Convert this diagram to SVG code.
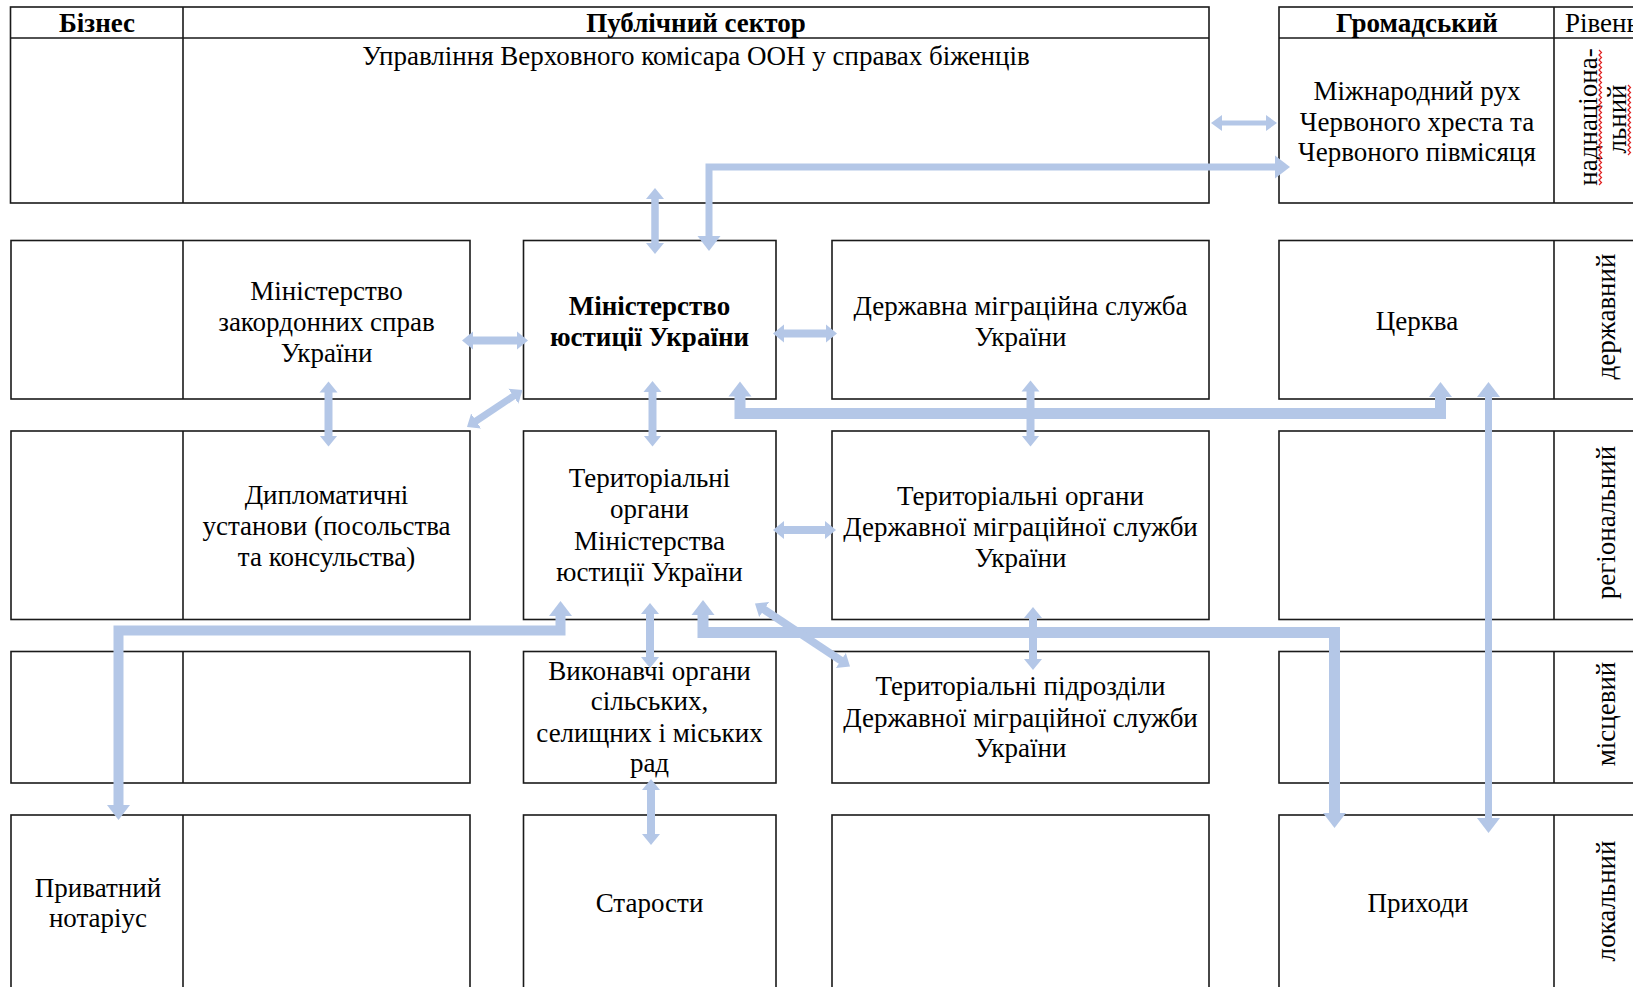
<svg xmlns="http://www.w3.org/2000/svg" width="1633" height="987" viewBox="0 0 1633 987">
<style>
.ln{fill:none;stroke:#1a1a1a;stroke-width:1.6}
.bx{fill:#fff;stroke:#1a1a1a;stroke-width:1.6}
.t{font-family:"Liberation Serif","DejaVu Serif","Times New Roman",serif;font-size:27px;fill:#000;text-anchor:middle}
.b{font-weight:bold}
.s{text-anchor:start}
.c{fill:none;stroke:#B4C7E7;stroke-linejoin:miter}
.ah{fill:#B4C7E7}
.sq{fill:none;stroke:#e02020;stroke-width:1.2}
</style>
<defs>
<marker id="hA" markerUnits="userSpaceOnUse" viewBox="0 -10 12 20" markerWidth="12" markerHeight="20" refX="1" refY="0" orient="auto-start-reverse"><path class="ah" d="M0,-9L11,0L0,9z"/></marker>
<marker id="hB" markerUnits="userSpaceOnUse" viewBox="0 -12 16 24" markerWidth="16" markerHeight="24" refX="1" refY="0" orient="auto-start-reverse"><path class="ah" d="M0,-11.5L15,0L0,11.5z"/></marker>
<marker id="hC" markerUnits="userSpaceOnUse" viewBox="0 -9 12 18" markerWidth="12" markerHeight="18" refX="1" refY="0" orient="auto-start-reverse"><path class="ah" d="M0,-8L11,0L0,8z"/></marker>
</defs>
<rect x="0" y="0" width="1633" height="987" fill="#fff"/>

<g id="table-top-left">
<rect class="bx" x="10.5" y="7" width="1198.5" height="196"/>
<path class="ln" d="M10.5,38H1209M183,7V203"/>
<text class="t b" x="97" y="31.5">Бізнес</text>
<text class="t b" x="696" y="31.5">Публічний сектор</text>
</g>
<g id="unhcr">
<text class="t" x="696" y="65">Управління Верховного комісара ООН у справах біженців</text>
</g>

<g id="table-top-right">
<rect class="bx" x="1279" y="7" width="370" height="196"/>
<path class="ln" d="M1279,38H1649M1554,7V203"/>
<text class="t b" x="1417" y="31.5">Громадський</text>
<text class="t s" x="1565" y="31.5">Рівень</text>
</g>
<g id="red-cross">
<text class="t" x="1417" y="100">Міжнародний рух</text>
<text class="t" x="1417" y="130.5">Червоного хреста та</text>
<text class="t" x="1417" y="161">Червоного півмісяця</text>
</g>
<g id="level-supranational">
<text class="t" transform="translate(1597,117) rotate(-90)">наднаціона-</text>
<text class="t" transform="translate(1626,119) rotate(-90)">льний</text>
<path class="sq" d="M1599,185l2.5,-2.5l-2.5,-2.5l2.5,-2.5l-2.5,-2.5l2.5,-2.5l-2.5,-2.5l2.5,-2.5l-2.5,-2.5l2.5,-2.5l-2.5,-2.5l2.5,-2.5l-2.5,-2.5l2.5,-2.5l-2.5,-2.5l2.5,-2.5l-2.5,-2.5l2.5,-2.5l-2.5,-2.5l2.5,-2.5l-2.5,-2.5l2.5,-2.5l-2.5,-2.5l2.5,-2.5l-2.5,-2.5l2.5,-2.5l-2.5,-2.5l2.5,-2.5l-2.5,-2.5l2.5,-2.5l-2.5,-2.5l2.5,-2.5l-2.5,-2.5l2.5,-2.5l-2.5,-2.5l2.5,-2.5l-2.5,-2.5l2.5,-2.5l-2.5,-2.5l2.5,-2.5l-2.5,-2.5l2.5,-2.5l-2.5,-2.5l2.5,-2.5l-2.5,-2.5l2.5,-2.5l-2.5,-2.5l2.5,-2.5l-2.5,-2.5l2.5,-2.5l-2.5,-2.5l2.5,-2.5l-2.5,-2.5l2.5,-2.5l-2.5,-2.5"/>
<path class="sq" d="M1628,155l2.5,-2.5l-2.5,-2.5l2.5,-2.5l-2.5,-2.5l2.5,-2.5l-2.5,-2.5l2.5,-2.5l-2.5,-2.5l2.5,-2.5l-2.5,-2.5l2.5,-2.5l-2.5,-2.5l2.5,-2.5l-2.5,-2.5l2.5,-2.5l-2.5,-2.5l2.5,-2.5l-2.5,-2.5l2.5,-2.5l-2.5,-2.5l2.5,-2.5l-2.5,-2.5l2.5,-2.5l-2.5,-2.5l2.5,-2.5l-2.5,-2.5l2.5,-2.5l-2.5,-2.5"/>
</g>

<!-- row: state -->
<g id="mfa">
<rect class="bx" x="11" y="240.5" width="459" height="158.5"/>
<path class="ln" d="M183,240.5V399"/>
<text class="t" x="326.5" y="300">Міністерство</text>
<text class="t" x="326.5" y="331">закордонних справ</text>
<text class="t" x="326.5" y="361.5">України</text>
</g>
<g id="moj">
<rect class="bx" x="523.5" y="240.5" width="252.5" height="158.5"/>
<text class="t b" x="649.5" y="315">Міністерство</text>
<text class="t b" x="649.5" y="346">юстиції України</text>
</g>
<g id="dms">
<rect class="bx" x="832" y="240.5" width="377" height="158.5"/>
<text class="t" x="1020.5" y="315">Державна міграційна служба</text>
<text class="t" x="1020.5" y="346">України</text>
</g>
<g id="church">
<rect class="bx" x="1279" y="240.5" width="370" height="158.5"/>
<path class="ln" d="M1554,240.5V399"/>
<text class="t" x="1417" y="330">Церква</text>
<text class="t" transform="translate(1615,316.5) rotate(-90)">державний</text>
</g>

<!-- row: regional -->
<g id="diplomatic">
<rect class="bx" x="11" y="431" width="459" height="188.5"/>
<path class="ln" d="M183,431V619.5"/>
<text class="t" x="326.5" y="504">Дипломатичні</text>
<text class="t" x="326.5" y="535">установи (посольства</text>
<text class="t" x="326.5" y="566">та консульства)</text>
</g>
<g id="to-moj">
<rect class="bx" x="523.5" y="431" width="252.5" height="188.5"/>
<text class="t" x="649.5" y="487">Територіальні</text>
<text class="t" x="649.5" y="518">органи</text>
<text class="t" x="649.5" y="549.5">Міністерства</text>
<text class="t" x="649.5" y="580.5">юстиції України</text>
</g>
<g id="to-dms">
<rect class="bx" x="832" y="431" width="377" height="188.5"/>
<text class="t" x="1020.5" y="505">Територіальні органи</text>
<text class="t" x="1020.5" y="536">Державної міграційної служби</text>
<text class="t" x="1020.5" y="566.5">України</text>
</g>
<g id="civic-regional">
<rect class="bx" x="1279" y="431" width="370" height="188.5"/>
<path class="ln" d="M1554,431V619.5"/>
<text class="t" transform="translate(1615,522.5) rotate(-90)">регіональний</text>
</g>

<!-- row: local-municipal -->
<g id="business-local">
<rect class="bx" x="11" y="651.5" width="459" height="131.5"/>
<path class="ln" d="M183,651.5V783"/>
</g>
<g id="executive">
<rect class="bx" x="523.5" y="651.5" width="252.5" height="131.5"/>
<text class="t" x="649.5" y="680">Виконавчі органи</text>
<text class="t" x="649.5" y="710">сільських,</text>
<text class="t" x="649.5" y="741.5">селищних і міських</text>
<text class="t" x="649.5" y="771.5">рад</text>
</g>
<g id="dms-units">
<rect class="bx" x="832" y="651.5" width="377" height="131.5"/>
<text class="t" x="1020.5" y="695">Територіальні підрозділи</text>
<text class="t" x="1020.5" y="726.5">Державної міграційної служби</text>
<text class="t" x="1020.5" y="756.5">України</text>
</g>
<g id="civic-local">
<rect class="bx" x="1279" y="651.5" width="370" height="131.5"/>
<path class="ln" d="M1554,651.5V783"/>
<text class="t" transform="translate(1615,714) rotate(-90)">місцевий</text>
</g>

<!-- row: community -->
<g id="notary">
<rect class="bx" x="11" y="815" width="459" height="190"/>
<path class="ln" d="M183,815V1005"/>
<text class="t" x="98" y="896.5">Приватний</text>
<text class="t" x="98" y="926.5">нотаріус</text>
</g>
<g id="starosty">
<rect class="bx" x="523.5" y="815" width="252.5" height="190"/>
<text class="t" x="649.5" y="911.5">Старости</text>
</g>
<g id="empty-community">
<rect class="bx" x="832" y="815" width="377" height="190"/>
</g>
<g id="parishes">
<rect class="bx" x="1279" y="815" width="370" height="190"/>
<path class="ln" d="M1554,815V1005"/>
<text class="t" x="1418" y="911.5">Приходи</text>
<text class="t" transform="translate(1615,901) rotate(-90)">локальний</text>
</g>

<g id="connectors">
<path class="c" stroke-width="7.5" d="M655,198V244" marker-start="url(#hA)" marker-end="url(#hA)"/>
<path class="c" stroke-width="7" d="M709,237V167H1276" marker-start="url(#hB)" marker-end="url(#hB)"/>
<path class="c" stroke-width="5" d="M1221,123H1267" marker-start="url(#hC)" marker-end="url(#hC)"/>
<path class="c" stroke-width="8" d="M472,340.5H518" marker-start="url(#hA)" marker-end="url(#hA)"/>
<path class="c" stroke-width="8" d="M783,333.5H827" marker-start="url(#hA)" marker-end="url(#hA)"/>
<path class="c" stroke-width="8" d="M328.5,391.5V436.5" marker-start="url(#hA)" marker-end="url(#hA)"/>
<path class="c" stroke-width="7" d="M475.3,421.5L514.2,395.6" marker-start="url(#hA)" marker-end="url(#hA)"/>
<path class="c" stroke-width="8" d="M652.5,391V436.5" marker-start="url(#hA)" marker-end="url(#hA)"/>
<path class="c" stroke-width="11" d="M740,395.5V413.5H1440.5V396" marker-start="url(#hB)" marker-end="url(#hB)"/>
<path class="c" stroke-width="8" d="M1030.5,390.5V436.5" marker-start="url(#hA)" marker-end="url(#hA)"/>
<path class="c" stroke-width="8" d="M783,530H826" marker-start="url(#hA)" marker-end="url(#hA)"/>
<path class="c" stroke-width="10" d="M560.5,615V630.5H118.5V806" marker-start="url(#hB)" marker-end="url(#hB)"/>
<path class="c" stroke-width="8" d="M650,613V658" marker-start="url(#hA)" marker-end="url(#hA)"/>
<path class="c" stroke-width="8" d="M651,789V835" marker-start="url(#hA)" marker-end="url(#hA)"/>
<path class="c" stroke-width="11" d="M703,614V632.5H1334.5V814" marker-start="url(#hB)" marker-end="url(#hB)"/>
<path class="c" stroke-width="8" d="M1033,617V660" marker-start="url(#hA)" marker-end="url(#hA)"/>
<path class="c" stroke-width="8" d="M763.3,609L841.7,661" marker-start="url(#hA)" marker-end="url(#hA)"/>
<path class="c" stroke-width="7" d="M1488.5,396V819" marker-start="url(#hB)" marker-end="url(#hB)"/>
</g>
</svg>
